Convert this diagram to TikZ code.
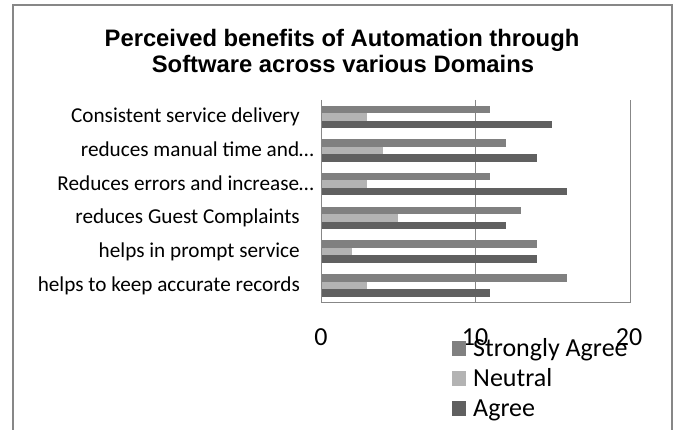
\documentclass[tikz,border=0pt]{standalone}
\usepackage{fontspec}
\setmainfont{Carlito}
\newfontfamily\titlefont{Liberation Sans}

\definecolor{sagray}{HTML}{808080}
\definecolor{neugray}{HTML}{B3B3B3}
\definecolor{agrgray}{HTML}{606060}
\definecolor{framegray}{HTML}{878787}

\begin{document}
\begin{tikzpicture}[x=1pt, y=-1pt,
        catlabel/.style={anchor=base east, inner sep=0pt, font=\fontsize{21.2}{24}\selectfont},
        ticklabel/.style={anchor=base, inner sep=0pt, font=\fontsize{26}{30}\selectfont},
        legtext/.style={anchor=base west, inner sep=0pt, font=\fontsize{26}{30}\selectfont},
        titletext/.style={anchor=base, inner sep=0pt, font={\titlefont\bfseries\fontsize{23.8}{26}\selectfont}},
        gridline/.style={framegray, line width=1pt}]

        \useasboundingbox (0,0) rectangle (676,430);

        % ==== OUTER FRAME ====
        \draw[framegray, line width=1.5pt] (13,440) -- (13,5) -- (672,5) -- (672,440);

        % ==== TITLE ====
        \node[titletext] (title1) at (342,47) {Perceived benefits of Automation through};
        \node[titletext] (title2) at (343,73) {Software across various Domains};

        % ==== GRID ====
        \draw[gridline] (475,100) -- (475,302.5);
        \draw[gridline] (321,302.5) -- (630,302.5) -- (630,100);

        % ==== BARS ====
        \foreach \sa/\ne/\ag [count=\i] in {11/3/15, 12/4/14, 11/3/16, 13/5/12, 14/2/14, 16/3/11}{
            \pgfmathsetmacro{\yc}{100+33.7*(\i-0.5)}
            \fill[sagray] (321,\yc-11.25) rectangle (321+15.4*\sa,\yc-3.75);
            \fill[neugray] (321,\yc-3.75) rectangle (321+15.4*\ne,\yc+3.75);
            \fill[agrgray] (321,\yc+3.75) rectangle (321+15.4*\ag,\yc+11.25);
        }

        % ==== VALUE AXIS ====
        \draw[gridline] (321,100) -- (321,302.5);

        % ==== CATEGORY LABELS ====
        \foreach \lab/\xe [count=\i] in {Consistent service delivery/300,
                reduces manual time and…/314,
                Reduces errors and increase…/314,
                reduces Guest Complaints/300,
                helps in prompt service/300,
                helps to keep accurate records/300}{
            \node[catlabel] (cat\i) at (\xe,{100+33.7*(\i-0.5)+6}) {\lab};
        }

        % ==== TICK LABELS ====
        \foreach \v in {0,10,20}{
            \node[ticklabel] (tick\v) at (321+15.4*\v,345) {\v};
        }

        % ==== LEGEND ====
        \foreach \col/\lab [count=\i] in {sagray/Strongly Agree, neugray/Neutral, agrgray/Agree}{
            \pgfmathsetmacro{\yb}{356+30*(\i-1)}
            \fill[\col] (452,\yb-15) rectangle (466,\yb-0.5);
            \node[legtext] (leg\i) at (473,\yb) {\lab};
        }

    \end{tikzpicture}
\end{document}
